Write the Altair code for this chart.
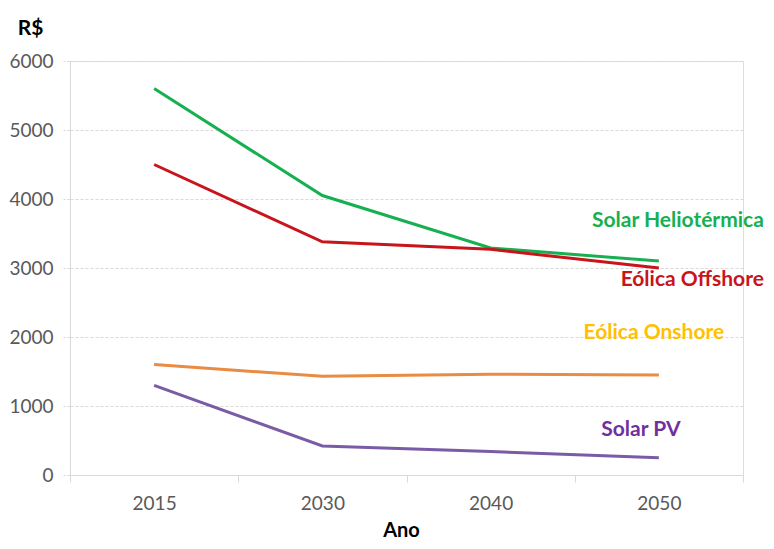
import altair as alt
import pandas as pd

years = ["2015", "2030", "2040", "2050"]
series_names = ["Solar Heliotérmica", "Eólica Offshore", "Eólica Onshore", "Solar PV"]
solar_helio = [5600, 4050, 3290, 3100]
eolica_off = [4500, 3380, 3270, 3000]
eolica_on = [1600, 1430, 1460, 1450]
solar_pv = [1300, 420, 340, 250]
label_y = [3680, 2830, 2060, 650]

line_colors = ["#17B050", "#C8141B", "#E98B43", "#7A5BA6"]
text_colors = ["#17B050", "#C8141B", "#FFC000", "#7030A0"]
label_style = [(105, "right"), (105, "right"), (-5, "center"), (-18, "center")]

rows = []
for name, vals in zip(series_names, [solar_helio, eolica_off, eolica_on, solar_pv]):
    for y, v in zip(years, vals):
        rows.append({"Ano": y, "valor": v, "serie": name})
df = pd.DataFrame(rows)

FONT = "Lato"

x_enc = alt.X(
    "Ano:N",
    sort=years,
    scale=alt.Scale(domain=years, paddingInner=0, paddingOuter=0),
    axis=alt.Axis(
        title="Ano", tickBand="extent", labelAngle=0, tickSize=7,
        domainColor="#D9D9D9", tickColor="#D9D9D9", labelColor="#595959",
        labelFontSize=19, labelFont=FONT, labelPadding=12, grid=False,
        titleFont=FONT, titleFontSize=20, titleFontWeight="bold", titleColor="#000000",
        titleX=331, titleY=55, titleAlign="center", titleBaseline="middle",
    ),
)
y_enc = alt.Y(
    "valor:Q",
    scale=alt.Scale(domain=[0, 6000], nice=False),
    axis=alt.Axis(
        title="R$", values=[0, 1000, 2000, 3000, 4000, 5000, 6000], format="d", tickSize=7,
        domainColor="#D9D9D9", tickColor="#D9D9D9", tickDash=[3, 2],
        gridColor="#D9D9D9", gridDash=[3, 2], labelColor="#595959",
        labelFontSize=19, labelFont=FONT, labelPadding=10,
        titleFont=FONT, titleFontSize=21, titleFontWeight="bold", titleColor="#000000",
        titleAngle=0, titleX=-40, titleY=-33, titleAlign="center", titleBaseline="middle",
    ),
)

lines = alt.Chart(df).mark_line(strokeWidth=3).encode(
    x=x_enc,
    y=y_enc,
    color=alt.Color("serie:N", scale=alt.Scale(domain=series_names, range=line_colors), legend=None),
)

layers = [lines]
for name, ly, col, (dx, align) in zip(series_names, label_y, text_colors, label_style):
    ldf = pd.DataFrame({"Ano": ["2050"], "valor": [ly], "txt": [name]})
    layers.append(
        alt.Chart(ldf).mark_text(
            font=FONT, fontSize=21, fontWeight="bold", color=col, align=align,
            baseline="middle", dx=dx,
        ).encode(x=alt.X("Ano:N", sort=years), y="valor:Q", text="txt:N")
    )

chart = alt.layer(*layers).properties(
    width=673, height=414,
    autosize=alt.AutoSizeParams(type="none"),
    padding={"left": 62, "top": 53, "right": 23, "bottom": 66},
).configure_view(stroke=None).configure(background="white")

chart.save("out.html", embed_options={"renderer": "svg", "actions": False})
